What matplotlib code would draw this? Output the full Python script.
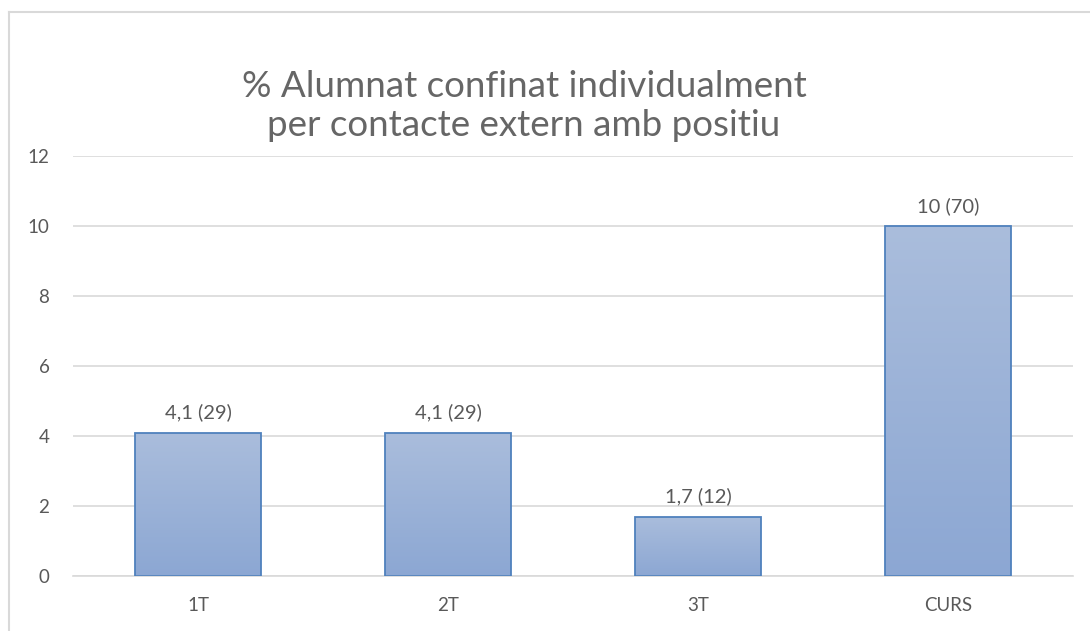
import numpy as np
import matplotlib
matplotlib.use("Agg")
import matplotlib.pyplot as plt
from matplotlib.colors import LinearSegmentedColormap
from matplotlib.lines import Line2D

# Dades del gràfic
categories = ["1T", "2T", "3T", "CURS"]
valors = [4.1, 4.1, 1.7, 10]
etiquetes = ["4,1 (29)", "4,1 (29)", "1,7 (12)", "10 (70)"]
yticks = [0, 2, 4, 6, 8, 10, 12]
titol = "% Alumnat confinat individualment\nper contacte extern amb positiu"

gris_text = "#595959"
gris_graella = "#D9D9D9"

plt.rcParams['font.family'] = ['Lato', 'DejaVu Sans']

fig = plt.figure(figsize=(10.9, 6.31), dpi=100)
ax = fig.add_axes([73/1090, 1 - 576/631, 1000/1090, 420/631])

x = np.arange(len(categories))
barres = ax.bar(x, valors, width=0.504, color="none", edgecolor="#4F81BD",
                linewidth=1.3, zorder=3)

# degradat vertical dins de cada barra
cmap = LinearSegmentedColormap.from_list("grad", ["#8CA7D3", "#AABDDC"])
grad = np.linspace(0, 1, 256).reshape(-1, 1)
for b in barres:
    x0, y0 = b.get_x(), b.get_y()
    w, h = b.get_width(), b.get_height()
    im = ax.imshow(grad, cmap=cmap, origin="lower", aspect="auto",
                   extent=[x0, x0 + w, y0, y0 + h], zorder=2)
    im.set_clip_path(b)

for xi, v, et in zip(x, valors, etiquetes):
    ax.annotate(et, (xi, v), xytext=(0, 8), textcoords="offset points",
                ha="center", va="bottom", fontsize=14.5, color=gris_text)

ax.set_xlim(-0.5, len(categories) - 0.5)
ax.set_ylim(0, 12)
ax.set_yticks(yticks)
ax.set_xticks(x)
ax.set_xticklabels(categories)
ax.yaxis.grid(True, color=gris_graella, linewidth=1.2, zorder=0)
ax.set_axisbelow(True)
for s in ["top", "right", "left"]:
    ax.spines[s].set_visible(False)
ax.spines["bottom"].set_color(gris_graella)
ax.spines["bottom"].set_linewidth(1.2)
ax.tick_params(axis="both", length=0, colors=gris_text, labelsize=13.5)
ax.tick_params(axis="y", pad=17)
ax.tick_params(axis="x", pad=15)

fig.text(524/1090, 1 - 106/631, titol, ha="center", va="center", fontsize=26.5,
         color="#666666", linespacing=1.2)

# vora de l'àrea del gràfic
fig.add_artist(Line2D([9/1090, 9/1090], [0, 1 - 12/631], color=gris_graella,
                      linewidth=1.5, transform=fig.transFigure))
fig.add_artist(Line2D([9/1090, 1], [1 - 12/631, 1 - 12/631], color=gris_graella,
                      linewidth=1.5, transform=fig.transFigure))

fig.savefig("out.png", dpi=100)
